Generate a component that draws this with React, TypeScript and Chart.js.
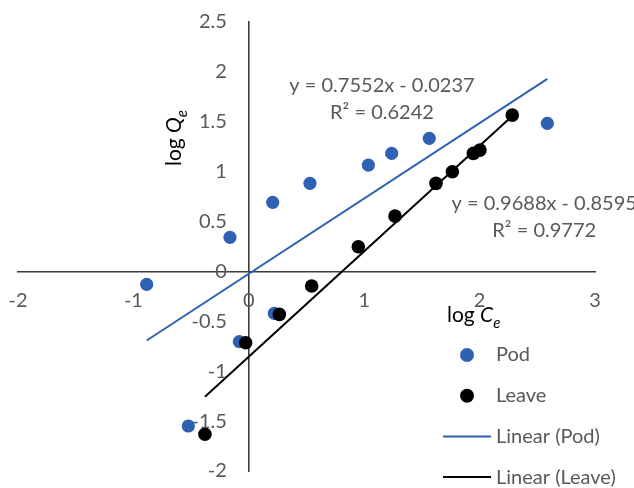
import React, { useEffect, useRef } from 'react';
import { Chart, registerables } from 'chart.js';

Chart.register(...registerables);

// ---- data ----
const podX = [-0.885, -0.524, -0.163, -0.082, 0.207, 0.221, 0.53, 1.036, 1.238, 1.564, 2.587];
const podY = [-0.13, -1.549, 0.342, -0.704, 0.692, -0.42, 0.883, 1.066, 1.183, 1.334, 1.484];
const leaveX = [-0.38, -0.027, 0.265, 0.545, 0.949, 1.267, 1.622, 1.764, 1.946, 2.003, 2.283];
const leaveY = [-1.632, -0.714, -0.43, -0.146, 0.248, 0.555, 0.883, 0.999, 1.183, 1.216, 1.567];
const podFitX = [-0.885, 2.587];
const podFitY = [-0.692, 1.93];
const leaveFitX = [-0.38, 2.283];
const leaveFitY = [-1.256, 1.559];
const xRange = [-2, 3];
const yRange = [-2, 2.5];
const xStep = 1;
const yStep = 0.5;
const seriesLabels = ['Pod', 'Leave', 'Linear (Pod)', 'Linear (Leave)'];
const podEquation = ['y = 0.7552x - 0.0237', 'R² = 0.6242'];
const leaveEquation = ['y = 0.9688x - 0.8595', 'R² = 0.9772'];
const podEquationAt = [1.154, 1.868];
const leaveEquationAt = [2.56, 0.68];
const xTitle = ['log ', 'C', 'e'];
const yTitle = ['log ', 'Q', 'e'];

const BLUE = '#2E61B4';
const BLACK = '#000000';
const GRAY = '#595959';
const AXIS = '#3C3C3C';
const FONT = 'Lato';

const pts = (xs: number[], ys: number[]) => xs.map((x, i) => ({ x, y: ys[i] }));

const overlayPlugin = {
  id: 'overlay',
  afterDraw(chart: any) {
    const ctx = chart.ctx;
    const xs = chart.scales.x;
    const ys = chart.scales.y;
    const x0 = xs.getPixelForValue(0);
    const y0 = ys.getPixelForValue(0);
    ctx.save();

    // tick labels (from the scales' own ticks)
    ctx.font = `20px ${FONT}`;
    ctx.fillStyle = GRAY;
    ctx.textBaseline = 'middle';
    ctx.textAlign = 'center';
    for (const t of xs.ticks) {
      const lbl = t.label ?? String(t.value);
      ctx.fillText(lbl, xs.getPixelForValue(t.value), y0 + 29);
    }
    ctx.textAlign = 'right';
    for (const t of ys.ticks) {
      const lbl = t.label ?? String(t.value);
      ctx.fillText(lbl, x0 - 22, ys.getPixelForValue(t.value));
    }

    // equations
    ctx.textAlign = 'center';
    const drawEq = (lines: string[], at: number[]) => {
      const cx = xs.getPixelForValue(at[0]);
      const cy = ys.getPixelForValue(at[1]);
      ctx.fillText(lines[0], cx, cy);
      ctx.fillText(lines[1], cx, cy + 27);
    };
    drawEq(podEquation, podEquationAt);
    drawEq(leaveEquation, leaveEquationAt);

    // legend
    const ds = chart.data.datasets;
    const lx = 467;
    const tx = 496;
    let ly = 355;
    ctx.textAlign = 'left';
    for (let i = 0; i < ds.length; i++) {
      const d = ds[i];
      if (d.type === 'line') {
        ctx.strokeStyle = d.borderColor;
        ctx.lineWidth = 2;
        ctx.beginPath();
        ctx.moveTo(443, ly);
        ctx.lineTo(491, ly);
        ctx.stroke();
      } else {
        ctx.fillStyle = d.backgroundColor;
        ctx.beginPath();
        ctx.arc(lx, ly, 7, 0, Math.PI * 2);
        ctx.fill();
      }
      ctx.fillStyle = GRAY;
      ctx.font = `20px ${FONT}`;
      ctx.fillText(d.label, tx, ly);
      ly += 40.7;
    }

    // axis titles
    const drawTitle = (parts: string[]) => {
      ctx.textAlign = 'left';
      ctx.textBaseline = 'alphabetic';
      ctx.fillStyle = '#000';
      ctx.font = `21px ${FONT}`;
      let x = 0;
      ctx.fillText(parts[0], x, 0);
      x += ctx.measureText(parts[0]).width;
      ctx.font = `italic 21px ${FONT}`;
      ctx.fillText(parts[1], x, 0);
      x += ctx.measureText(parts[1]).width;
      ctx.font = `italic 15px ${FONT}`;
      ctx.fillText(parts[2], x, 6);
    };
    ctx.save();
    ctx.translate(447, 322);
    drawTitle(xTitle);
    ctx.restore();
    ctx.save();
    ctx.translate(181, 166);
    ctx.rotate(-Math.PI / 2);
    drawTitle(yTitle);
    ctx.restore();
    ctx.restore();
  },
};

export default function App() {
  const ref = useRef<HTMLCanvasElement | null>(null);
  useEffect(() => {
    document.body.style.margin = '0';
    const canvas = ref.current!;
    const fmt = (v: any) => String(Number(v));
    const chart = new Chart(canvas, {
      type: 'scatter',
      data: {
        datasets: [
          {
            label: seriesLabels[0],
            data: pts(podX, podY),
            backgroundColor: BLUE,
            borderWidth: 0,
            pointRadius: 6.6,
            order: 3,
          },
          {
            label: seriesLabels[1],
            data: pts(leaveX, leaveY),
            backgroundColor: BLACK,
            borderWidth: 0,
            pointRadius: 6.8,
            order: 1,
          },
          {
            type: 'line',
            label: seriesLabels[2],
            data: pts(podFitX, podFitY),
            borderColor: BLUE,
            borderWidth: 2,
            pointRadius: 0,
            showLine: true,
            fill: false,
            order: 2,
          },
          {
            type: 'line',
            label: seriesLabels[3],
            data: pts(leaveFitX, leaveFitY),
            borderColor: BLACK,
            borderWidth: 2,
            pointRadius: 0,
            showLine: true,
            fill: false,
            order: 0,
          },
        ] as any,
      },
      options: {
        animation: false,
        responsive: false,
        devicePixelRatio: 1,
        layout: { padding: { left: 18, right: 39, top: 22, bottom: 17 } },
        plugins: { legend: { display: false }, tooltip: { enabled: false } },
        scales: {
          x: {
            type: 'linear',
            min: xRange[0],
            max: xRange[1],
            position: { y: 0 } as any,
            ticks: { stepSize: xStep, display: false, callback: fmt },
            grid: { display: false, drawTicks: false },
            border: { display: true, color: AXIS, width: 1.6 },
          },
          y: {
            type: 'linear',
            min: yRange[0],
            max: yRange[1],
            position: { x: 0 } as any,
            ticks: { stepSize: yStep, display: false, callback: fmt },
            grid: { display: false, drawTicks: false },
            border: { display: true, color: AXIS, width: 1.6 },
          },
        },
      },
      plugins: [overlayPlugin],
    });
    return () => chart.destroy();
  }, []);
  return <canvas ref={ref} width={634} height={488} style={{ display: 'block', width: 634, height: 488 }} />;
}
